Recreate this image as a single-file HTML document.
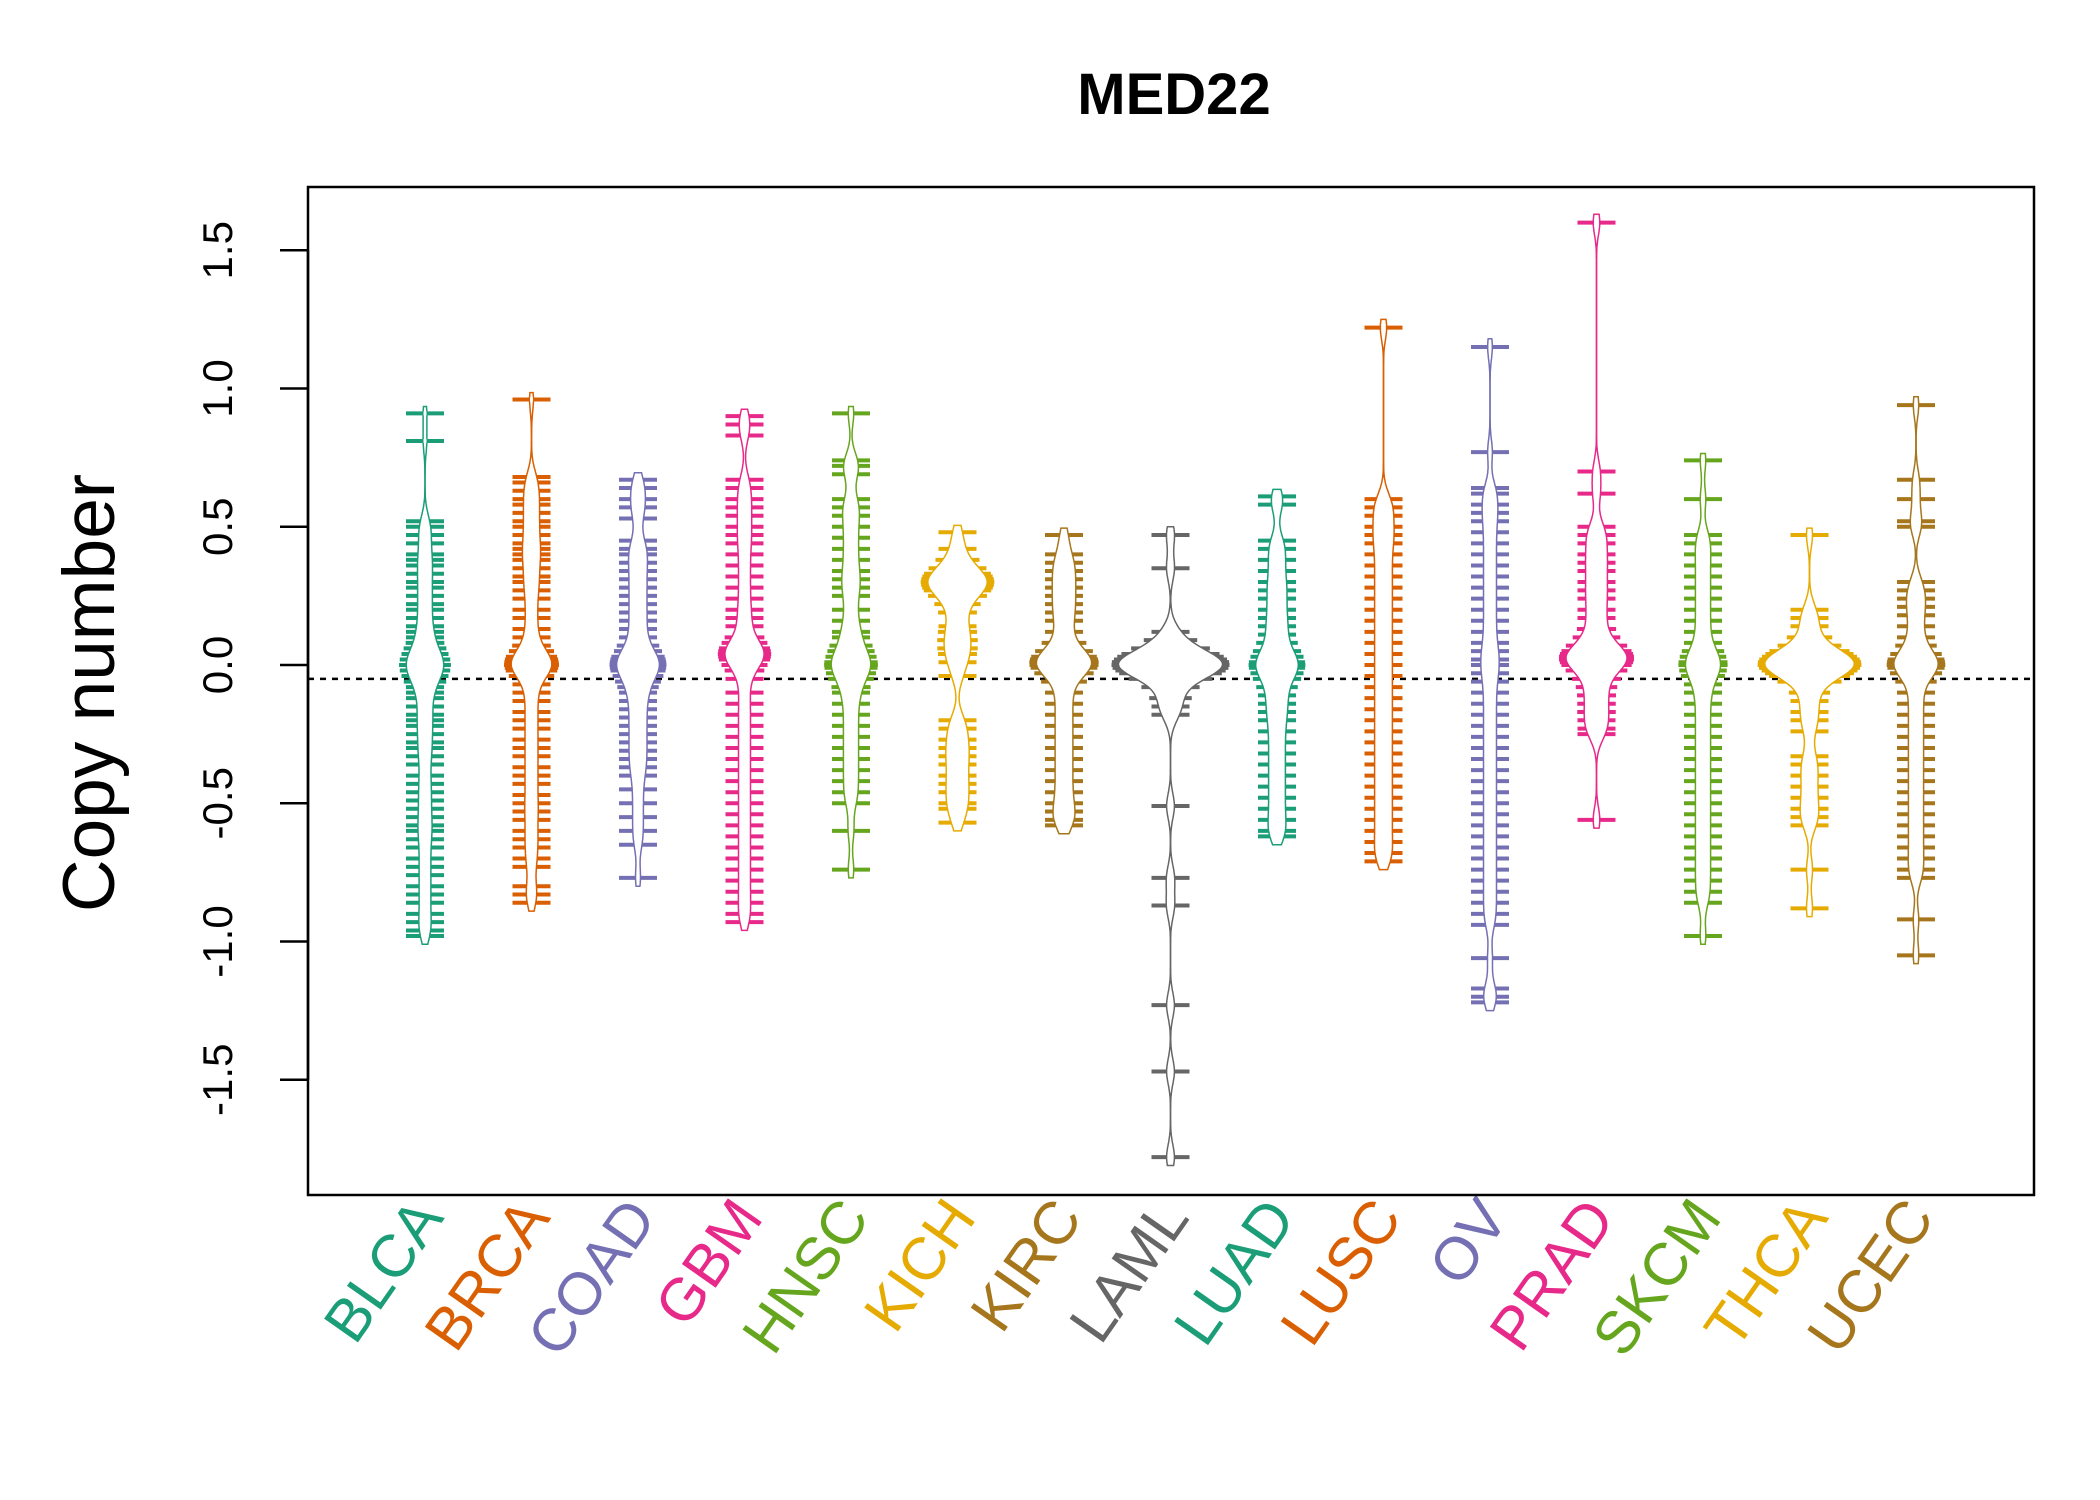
<!DOCTYPE html>
<html><head><meta charset="utf-8"><title>MED22</title>
<style>html,body{margin:0;padding:0;background:#fff}svg{display:block}</style></head>
<body>
<svg id="chart" xmlns="http://www.w3.org/2000/svg" width="2100" height="1500" viewBox="0 0 2100 1500">
<rect x="0" y="0" width="2100" height="1500" fill="#fff"/>
<text x="1174" y="114" text-anchor="middle" font-family="Liberation Sans, sans-serif" font-weight="bold" font-size="58">MED22</text>
<text transform="translate(114,693) rotate(-90)" text-anchor="middle" font-family="Liberation Sans, sans-serif" font-size="73">Copy number</text>
<g id="yaxis"></g>
<g id="beans"></g>
<g id="xlabels"></g>
<rect x="308" y="187" width="1726" height="1008" fill="none" stroke="#000" stroke-width="2.5"/>
</svg>
<script>
const categories = ["BLCA","BRCA","COAD","GBM","HNSC","KICH","KIRC","LAML","LUAD","LUSC","OV","PRAD","SKCM","THCA","UCEC"];
const colors = ["#1B9E77","#D95F02","#7570B3","#E7298A","#66A61E","#E6AB02","#A6761D","#666666","#1B9E77","#D95F02","#7570B3","#E7298A","#66A61E","#E6AB02","#A6761D"];
const yTicks = [-1.5,-1.0,-0.5,0.0,0.5,1.0,1.5];
const yTickLabels = ["-1.5","-1.0","-0.5","0.0","0.5","1.0","1.5"];
const overallLine = -0.05;
const valsBLCA = [0.91,0.81,0.52,0.5,0.47,0.44,0.4,0.38,0.36,0.33,0.3,0.28,0.25,0.22,0.2,0.17,0.14,0.12,0.1,0.08,0.06,0.04,0.04,0.02,0.02,0,0,0,-0.02,-0.02,-0.04,-0.04,-0.06,-0.08,-0.1,-0.12,-0.15,-0.18,-0.2,-0.22,-0.25,-0.28,-0.3,-0.33,-0.36,-0.4,-0.43,-0.46,-0.49,-0.52,-0.55,-0.58,-0.6,-0.63,-0.66,-0.7,-0.73,-0.76,-0.8,-0.83,-0.86,-0.9,-0.93,-0.96,-0.98];
const valsBRCA = [0.96,0.68,0.66,0.63,0.6,0.58,0.55,0.52,0.5,0.47,0.44,0.42,0.4,0.38,0.35,0.32,0.3,0.27,0.24,0.2,0.17,0.13,0.1,0.07,0.05,0.03,0.02,0.01,0,0,0,0,-0.01,-0.02,-0.04,-0.07,-0.1,-0.13,-0.17,-0.2,-0.23,-0.27,-0.3,-0.33,-0.37,-0.4,-0.43,-0.47,-0.5,-0.53,-0.56,-0.6,-0.63,-0.66,-0.7,-0.73,-0.8,-0.83,-0.86];
const valsCOAD = [0.67,0.64,0.6,0.57,0.53,0.45,0.42,0.4,0.37,0.34,0.31,0.28,0.25,0.22,0.19,0.16,0.13,0.1,0.07,0.05,0.03,0.02,0.01,0,0,-0.01,-0.02,-0.04,-0.06,-0.08,-0.1,-0.13,-0.16,-0.19,-0.22,-0.25,-0.28,-0.31,-0.34,-0.37,-0.4,-0.45,-0.5,-0.55,-0.6,-0.65,-0.77];
const valsGBM = [0.9,0.87,0.83,0.67,0.64,0.6,0.57,0.54,0.5,0.47,0.44,0.4,0.36,0.32,0.28,0.24,0.2,0.17,0.14,0.1,0.08,0.06,0.05,0.04,0.04,0.04,0.03,0.02,0,-0.02,-0.05,-0.1,-0.14,-0.18,-0.22,-0.26,-0.3,-0.34,-0.38,-0.42,-0.46,-0.5,-0.54,-0.58,-0.62,-0.66,-0.7,-0.74,-0.78,-0.82,-0.86,-0.9,-0.93];
const valsHNSC = [0.91,0.74,0.72,0.69,0.6,0.57,0.54,0.5,0.46,0.42,0.38,0.34,0.31,0.28,0.25,0.2,0.16,0.12,0.1,0.07,0.05,0.03,0.01,0,0,-0.01,-0.03,-0.05,-0.08,-0.1,-0.14,-0.18,-0.22,-0.26,-0.3,-0.34,-0.38,-0.42,-0.46,-0.5,-0.6,-0.74];
const valsKICH = [0.48,0.42,0.38,0.35,0.33,0.32,0.31,0.3,0.3,0.29,0.28,0.27,0.25,0.22,0.19,0.14,0.12,0.09,0.06,0.04,0.01,-0.04,-0.2,-0.23,-0.27,-0.3,-0.33,-0.36,-0.4,-0.43,-0.46,-0.5,-0.52,-0.57];
const valsKIRC = [0.47,0.4,0.37,0.34,0.31,0.28,0.25,0.22,0.19,0.16,0.12,0.08,0.05,0.03,0.02,0.01,0.01,0,0,-0.01,-0.03,-0.06,-0.1,-0.14,-0.18,-0.22,-0.26,-0.3,-0.34,-0.38,-0.42,-0.46,-0.5,-0.53,-0.56,-0.58];
const valsLAML = [0.47,0.35,0.12,0.09,0.06,0.04,0.03,0.02,0.01,0.01,0,0,0,0,-0.01,-0.01,-0.02,-0.03,-0.05,-0.08,-0.12,-0.15,-0.18,-0.51,-0.77,-0.87,-1.23,-1.47,-1.78];
const valsLUAD = [0.61,0.58,0.45,0.42,0.38,0.34,0.3,0.27,0.24,0.2,0.17,0.14,0.11,0.08,0.05,0.03,0.01,0,0,-0.01,-0.03,-0.05,-0.08,-0.11,-0.14,-0.17,-0.2,-0.24,-0.28,-0.32,-0.36,-0.4,-0.44,-0.48,-0.52,-0.56,-0.6,-0.62];
const valsLUSC = [1.22,0.6,0.57,0.54,0.5,0.47,0.44,0.4,0.36,0.32,0.28,0.24,0.2,0.16,0.12,0.08,0.04,0,-0.04,-0.08,-0.12,-0.16,-0.2,-0.24,-0.28,-0.32,-0.36,-0.4,-0.44,-0.48,-0.52,-0.56,-0.6,-0.64,-0.68,-0.71];
const valsOV = [1.15,0.77,0.64,0.62,0.58,0.55,0.52,0.48,0.44,0.4,0.36,0.32,0.28,0.24,0.2,0.16,0.12,0.08,0.05,0.02,0,-0.03,-0.06,-0.1,-0.14,-0.18,-0.22,-0.26,-0.3,-0.34,-0.38,-0.42,-0.46,-0.5,-0.54,-0.58,-0.62,-0.66,-0.7,-0.74,-0.78,-0.82,-0.86,-0.9,-0.94,-1.06,-1.17,-1.2,-1.22];
const valsPRAD = [1.6,0.7,0.62,0.5,0.47,0.44,0.4,0.37,0.34,0.3,0.27,0.24,0.2,0.17,0.13,0.1,0.07,0.05,0.04,0.03,0.03,0.02,0.02,0.01,0,-0.02,-0.05,-0.08,-0.11,-0.14,-0.17,-0.2,-0.23,-0.25,-0.56];
const valsSKCM = [0.74,0.6,0.47,0.44,0.4,0.36,0.32,0.28,0.24,0.2,0.16,0.12,0.08,0.05,0.03,0.01,0,0,-0.02,-0.04,-0.07,-0.1,-0.14,-0.18,-0.22,-0.26,-0.3,-0.34,-0.38,-0.42,-0.46,-0.5,-0.54,-0.58,-0.62,-0.66,-0.7,-0.74,-0.78,-0.82,-0.86,-0.98];
const valsTHCA = [0.47,0.2,0.17,0.14,0.1,0.07,0.05,0.04,0.03,0.02,0.02,0.01,0.01,0,0,0,0,-0.01,-0.01,-0.02,-0.03,-0.04,-0.06,-0.1,-0.13,-0.17,-0.2,-0.24,-0.33,-0.36,-0.4,-0.44,-0.48,-0.52,-0.55,-0.58,-0.74,-0.88];
const valsUCEC = [0.94,0.67,0.6,0.52,0.5,0.3,0.27,0.24,0.21,0.18,0.14,0.1,0.07,0.04,0.02,0.01,0,0,0,-0.01,-0.03,-0.06,-0.1,-0.14,-0.18,-0.22,-0.26,-0.3,-0.34,-0.38,-0.42,-0.46,-0.5,-0.54,-0.58,-0.62,-0.66,-0.7,-0.74,-0.77,-0.92,-1.05];
const groupValues = [valsBLCA,valsBRCA,valsCOAD,valsGBM,valsHNSC,valsKICH,valsKIRC,valsLAML,valsLUAD,valsLUSC,valsOV,valsPRAD,valsSKCM,valsTHCA,valsUCEC];

const NS = "http://www.w3.org/2000/svg";
const PL = 308, PR = 2034, PT = 187, PB = 1195;
function yScale(v){ return 665 - 276.5 * v; }
function xScale(i){ return 425 + 106.5 * i; }
function mk(tag, attrs, parent){ const e = document.createElementNS(NS, tag); for (const k in attrs) e.setAttribute(k, attrs[k]); parent.appendChild(e); return e; }

const yaxis = document.getElementById('yaxis');
mk('line', {x1:PL, y1:yScale(yTicks[0]), x2:PL, y2:yScale(yTicks[yTicks.length-1]), stroke:'#000','stroke-width':2.5}, yaxis);
yTicks.forEach((t, k) => {
  const tk = mk('line', {x1:PL-28, y1:yScale(t), x2:PL, y2:yScale(t), stroke:'#000','stroke-width':2.5}, yaxis);
  
  
  const lb = mk('text', {transform:'translate(232,'+yScale(t)+') rotate(-90)', 'text-anchor':'middle', 'font-family':'Liberation Sans, sans-serif', 'font-size':42}, yaxis);
  lb.textContent = yTickLabels[k];
  
  
});

const bw = 0.045;
const dens = groupValues.map(vals => {
  const lo = Math.min(...vals), hi = Math.max(...vals);
  const pts = [];
  for (let y = lo - 0.03; y <= hi + 0.03; y += 0.005) {
    let s = 0; for (const v of vals) { const z = (y - v) / bw; s += Math.exp(-0.5*z*z); }
    pts.push([y, s / vals.length]);
  }
  return pts;
});
let gmax = 0; dens.forEach(d => d.forEach(p => { if (p[1] > gmax) gmax = p[1]; }));
const maxHalf = 52;

const beans = document.getElementById('beans');
const dashed = mk('line', {x1:PL, y1:yScale(overallLine), x2:PR, y2:yScale(overallLine), stroke:'#000','stroke-width':2.5,'stroke-dasharray':'6,6'}, beans);



function widthAt(d, v){ let best = 0, bd = 1e9; for (const p of d) { const dd = Math.abs(p[0]-v); if (dd < bd) { bd = dd; best = p[1]; } } return best / gmax * maxHalf; }

groupValues.forEach((vals, i) => {
  const g = mk('g', {}, beans);
  
  
  const cx = xScale(i), col = colors[i], d = dens[i];
  mk('line', {x1:cx, y1:yScale(Math.max(...vals)), x2:cx, y2:yScale(Math.min(...vals)), stroke:col, 'stroke-width':1.5}, g);
  vals.forEach(v => {
    const L = Math.max(19, widthAt(d, v) + 7);
    const ln = mk('line', {x1:cx-L, y1:yScale(v), x2:cx+L, y2:yScale(v), stroke:col, 'stroke-width':4}, g);
    
    
  });
  let path = '';
  d.forEach((p, k) => { path += (k ? 'L' : 'M') + (cx + p[1]/gmax*maxHalf).toFixed(1) + ',' + yScale(p[0]).toFixed(1); });
  for (let k = d.length - 1; k >= 0; k--) { const p = d[k]; path += 'L' + (cx - p[1]/gmax*maxHalf).toFixed(1) + ',' + yScale(p[0]).toFixed(1); }
  const poly = mk('path', {d: path + 'Z', fill:'#fff', stroke:col, 'stroke-width':1.5}, g);
  
  
  vals.forEach(v => { mk('rect', {x:cx-1.5, y:yScale(v)-2, width:3, height:4, fill:'#fff'}, g); });
});

const xl = document.getElementById('xlabels');
categories.forEach((c, i) => {
  const t = mk('text', {transform:'translate('+(xScale(i)+20)+',1218) rotate(-55)', 'text-anchor':'end', 'font-family':'Liberation Sans, sans-serif', 'font-size':60, fill:colors[i]}, xl);
  t.textContent = c;
  
  
});
</script>
</body></html>
